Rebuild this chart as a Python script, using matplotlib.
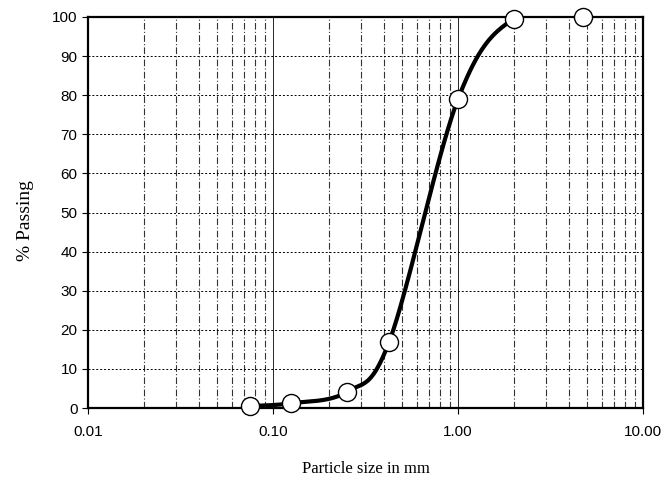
import numpy as np
import matplotlib.pyplot as plt
from matplotlib.ticker import FixedLocator, NullFormatter

# sieve data
size_mm = [0.075, 0.125, 0.25, 0.425, 1.0, 2.0, 4.75]
passing = [0.5, 1.2, 4.1, 17.0, 79.0, 99.5, 100.0]
xtick_vals = [0.01, 0.1, 1.0, 10.0]
xtick_labels = ['0.01', '0.10', '1.00', '10.00']


def smooth(xs, ys, sx=185.0, sy=3.91, n=40):
    # Catmull-Rom through the points, done in screen-like space (log x)
    u = np.log10(xs) * sx
    v = np.array(ys) * sy
    P = np.column_stack([u, v])
    P = np.vstack([P[0], P, P[-1]])
    out = []
    for i in range(1, len(P) - 2):
        p0, p1, p2, p3 = P[i - 1], P[i], P[i + 1], P[i + 2]
        t = np.linspace(0, 1, n)[:, None]
        c1 = p1 + (p2 - p0) / 6
        c2 = p2 - (p3 - p1) / 6
        seg = ((1 - t) ** 3 * p1 + 3 * (1 - t) ** 2 * t * c1
               + 3 * (1 - t) * t ** 2 * c2 + t ** 3 * p2)
        out.append(seg)
    out = np.vstack(out)
    return 10 ** (out[:, 0] / sx), out[:, 1] / sy


fig = plt.figure(figsize=(6.67, 4.83), dpi=100)
ax = fig.add_axes([88 / 667, 75 / 483, 555 / 667, 391 / 483])

ax.set_xscale('log')
ax.set_xlim(0.01, 10)
ax.set_ylim(0, 100)

ax.xaxis.set_major_locator(FixedLocator(xtick_vals))
ax.set_xticklabels(xtick_labels)
minors = [m * d for d in [0.01, 0.1, 1.0] for m in range(2, 10)]
ax.xaxis.set_minor_locator(FixedLocator(minors))
ax.xaxis.set_minor_formatter(NullFormatter())
ax.set_yticks(range(0, 101, 10))

ax.grid(True, which='major', axis='x', color='black', lw=0.6, ls='-')
ax.grid(True, which='minor', axis='x', color='#333333', lw=0.8, ls=(0, (6, 2, 1, 2)))
ax.grid(True, which='major', axis='y', color='black', lw=0.7, ls=(0, (2, 2)))

ax.tick_params(axis='x', which='major', length=4, width=0.8, labelsize=11, pad=8)
ax.tick_params(axis='x', which='minor', length=0)
ax.tick_params(axis='y', length=4, width=0.8, labelsize=11)
for lab in ax.get_xticklabels() + ax.get_yticklabels():
    lab.set_fontfamily('Liberation Sans')
for s in ax.spines.values():
    s.set_linewidth(1.6)

cx, cy = smooth(size_mm, passing)
ax.plot(cx, cy, color='black', lw=3, zorder=3)
ax.plot(size_mm, passing, 'o', ms=13, mfc='white', mec='black', mew=1.0,
        zorder=4, clip_on=False)

ax.set_xlabel('Particle size in mm', family='Liberation Serif', fontsize=12, labelpad=16)
ax.set_ylabel('% Passing', family='Liberation Serif', fontsize=14)
ax.yaxis.set_label_coords(-0.097, 0.48)

fig.savefig('out.png', dpi=100)
